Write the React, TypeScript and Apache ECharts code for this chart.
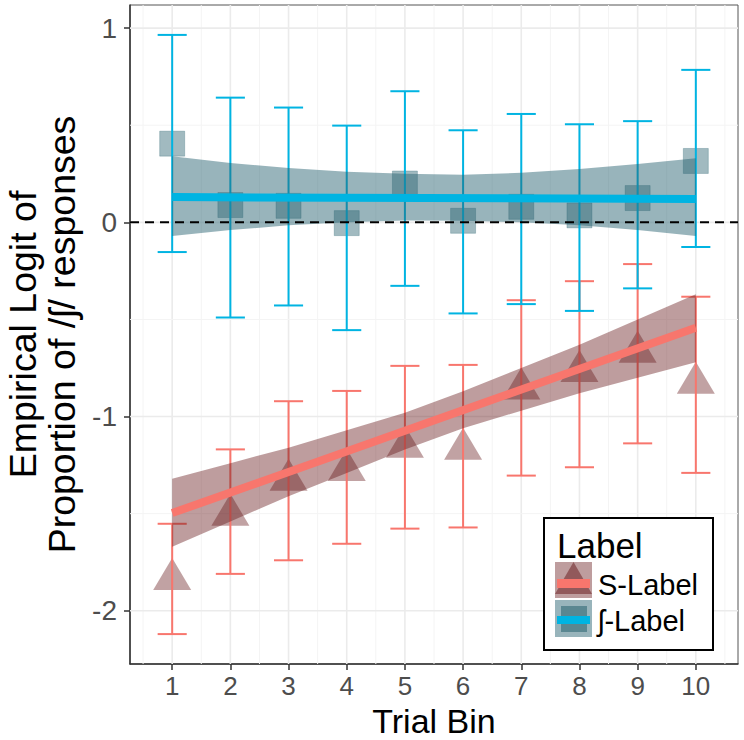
import React, { useEffect, useRef } from "react";
import * as echarts from "echarts";

// ---------- data ----------
const trialBins = [1, 2, 3, 4, 5, 6, 7, 8, 9, 10];
const xTickValues = [1, 2, 3, 4, 5, 6, 7, 8, 9, 10];
const yTickValues = [-2, -1, 0, 1];
const xMajorGrid = [1, 2, 3, 4, 5, 6, 7, 8, 9, 10];
const xMinorGrid = [0.5, 1.5, 2.5, 3.5, 4.5, 5.5, 6.5, 7.5, 8.5, 9.5, 10.5];
const yMajorGrid = [-2, -1, 0, 1];
const yMinorGrid = [-1.5, -0.5, 0.5];

// S-Label (triangles)
const sMean = [-1.81, -1.48, -1.3, -1.25, -1.13, -1.14, -0.83, -0.74, -0.64, -0.8];
const sLow = [-2.12, -1.81, -1.74, -1.655, -1.577, -1.571, -1.304, -1.261, -1.138, -1.29];
const sHigh = [-1.552, -1.169, -0.921, -0.868, -0.739, -0.734, -0.401, -0.303, -0.215, -0.383];
const sFitEnds = [-1.497, -0.543];
const sBandUpper = [-1.32, -1.24, -1.16, -1.07, -0.98, -0.87, -0.75, -0.63, -0.5, -0.37];
const sBandLower = [-1.67, -1.54, -1.41, -1.29, -1.17, -1.06, -0.97, -0.88, -0.8, -0.72];

// ʃ-Label (squares)
const shMean = [0.405, 0.089, 0.085, -0.004, 0.2, 0.008, 0.08, 0.036, 0.125, 0.316];
const shLow = [-0.153, -0.49, -0.428, -0.555, -0.327, -0.469, -0.421, -0.456, -0.34, -0.127];
const shHigh = [0.965, 0.642, 0.591, 0.498, 0.675, 0.474, 0.558, 0.505, 0.521, 0.785];
const shFitEnds = [0.13, 0.12];
const shBandUpper = [0.34, 0.305, 0.28, 0.26, 0.25, 0.245, 0.255, 0.275, 0.3, 0.33];
const shBandLower = [-0.07, -0.04, -0.015, 0.0, 0.01, 0.008, 0.0, -0.015, -0.04, -0.07];

const seriesNames = ["S-Label", "ʃ-Label"];

// ---------- styles ----------
const FONT = "'Liberation Sans', Arial, Helvetica, sans-serif";
const RED = "#F8766D";
const BLUE = "#00B4E2";
const RED_BAND = "rgba(99,22,24,0.42)";
const RED_PT = "rgba(99,22,24,0.5)";
const BLUE_BAND = "rgba(40,98,112,0.48)";
const BLUE_PT = "rgba(40,98,112,0.55)";
const X_MIN = 0.275;
const X_MAX = 10.725;
const Y_MIN = -2.274;
const Y_MAX = 1.119;
const ERR_WIDTH = 0.5;

function gridLineSeries() {
  const data: number[][] = [];
  xMinorGrid.forEach((v) => data.push([v, 0, 0]));
  xMajorGrid.forEach((v) => data.push([v, 0, 1]));
  yMinorGrid.forEach((v) => data.push([v, 1, 0]));
  yMajorGrid.forEach((v) => data.push([v, 1, 1]));
  return {
    type: "custom",
    name: "grid",
    silent: true,
    z: 1,
    data,
    renderItem: (params: any, api: any) => {
      const v = api.value(0);
      const dir = api.value(1);
      const major = api.value(2) === 1;
      const cs = params.coordSys;
      const style = {
        stroke: major ? "#EBEBEB" : "#F4F4F4",
        lineWidth: major ? 1.6 : 1,
      };
      if (dir === 0) {
        const px = api.coord([v, 0])[0];
        return { type: "line", shape: { x1: px, y1: cs.y, x2: px, y2: cs.y + cs.height }, style };
      }
      const py = api.coord([1, v])[1];
      return { type: "line", shape: { x1: cs.x, y1: py, x2: cs.x + cs.width, y2: py }, style };
    },
  };
}

function bandSeries(name: string, lower: number[], upper: number[], fill: string) {
  return {
    type: "custom",
    name,
    silent: true,
    z: 4,
    data: trialBins.map((x, i) => [x, lower[i], upper[i]]),
    renderItem: (params: any, api: any) => {
      if (params.dataIndex !== 0) return null;
      const pts: number[][] = [];
      trialBins.forEach((x, i) => pts.push(api.coord([x, upper[i]])));
      for (let i = trialBins.length - 1; i >= 0; i--) pts.push(api.coord([trialBins[i], lower[i]]));
      return { type: "polygon", shape: { points: pts }, style: { fill } };
    },
  };
}

function errSeries(name: string, low: number[], high: number[], color: string) {
  return {
    type: "custom",
    name,
    silent: true,
    z: 3,
    data: trialBins.map((x, i) => [x, low[i], high[i]]),
    renderItem: (params: any, api: any) => {
      const x = api.value(0);
      const top = api.coord([x, api.value(2)]);
      const bot = api.coord([x, api.value(1)]);
      const half = api.size([ERR_WIDTH, 0])[0] / 2;
      const style = { stroke: color, lineWidth: 2 };
      return {
        type: "group",
        children: [
          { type: "line", shape: { x1: top[0], y1: top[1], x2: bot[0], y2: bot[1] }, style },
          { type: "line", shape: { x1: top[0] - half, y1: top[1], x2: top[0] + half, y2: top[1] }, style },
          { type: "line", shape: { x1: bot[0] - half, y1: bot[1], x2: bot[0] + half, y2: bot[1] }, style },
        ],
      };
    },
  };
}

function zeroLineSeries() {
  return {
    type: "custom",
    name: "zero",
    silent: true,
    z: 6,
    data: [[0]],
    renderItem: (params: any, api: any) => {
      const cs = params.coordSys;
      const py = api.coord([1, 0])[1];
      return {
        type: "line",
        shape: { x1: cs.x, y1: py, x2: cs.x + cs.width, y2: py },
        style: { stroke: "#000", lineWidth: 2, lineDash: [9, 6] },
      };
    },
  };
}

function legendGraphics() {
  const bx = 544;
  const by = 518;
  return [
    { type: "rect", shape: { x: bx, y: by, width: 169, height: 132 }, style: { fill: "#fff", stroke: "#000", lineWidth: 2 }, z: 100 },
    { type: "text", x: 557, y: 545, style: { text: "Label", font: `35px ${FONT}`, fill: "#000", verticalAlign: "middle", align: "left" }, z: 101 },
    // S-Label key
    { type: "rect", shape: { x: 555, y: 562, width: 37, height: 36 }, style: { fill: RED_BAND }, z: 101 },
    { type: "polygon", shape: { points: [[573.5, 562], [555, 594], [592, 594]] }, style: { fill: RED_PT }, z: 102 },
    { type: "rect", shape: { x: 557, y: 579, width: 33, height: 9 }, style: { fill: RED }, z: 103 },
    { type: "text", x: 598, y: 585, style: { text: seriesNames[0], font: `29px ${FONT}`, fill: "#000", verticalAlign: "middle", align: "left" }, z: 101 },
    // ʃ-Label key
    { type: "rect", shape: { x: 555, y: 600, width: 37, height: 37 }, style: { fill: BLUE_BAND }, z: 101 },
    { type: "rect", shape: { x: 561, y: 606, width: 26, height: 26 }, style: { fill: BLUE_PT }, z: 102 },
    { type: "rect", shape: { x: 557, y: 616, width: 33, height: 8 }, style: { fill: BLUE }, z: 103 },
    { type: "text", x: 598, y: 621, style: { text: seriesNames[1], font: `29px ${FONT}`, fill: "#000", verticalAlign: "middle", align: "left" }, z: 101 },
  ];
}

const axisLabelStyle = { fontSize: 26, color: "#4D4D4D", fontFamily: FONT };

function buildOption() {
  return {
    animation: false,
    backgroundColor: "#ffffff",
    textStyle: { fontFamily: FONT },
    grid: {
      left: 130,
      right: 6,
      top: 5,
      bottom: 76,
      containLabel: false,
      outerBoundsMode: "none",
      show: true,
      borderColor: "#555",
      borderWidth: 1,
      backgroundColor: "transparent",
    },
    xAxis: {
      type: "value",
      min: X_MIN,
      max: X_MAX,
      name: "Trial Bin",
      nameLocation: "middle",
      nameGap: 39.5,
      nameMoveOverlap: false,
      nameTextStyle: { fontSize: 34, color: "#000", fontFamily: FONT, lineHeight: 34 },
      axisLine: { show: true, onZero: false, lineStyle: { color: "#333", width: 1.5 } },
      axisTick: { show: true, customValues: xTickValues, length: 6, lineStyle: { color: "#333", width: 1.5 } },
      axisLabel: { customValues: xTickValues, margin: 9, ...axisLabelStyle },
      splitLine: { show: false },
    },
    yAxis: {
      type: "value",
      min: Y_MIN,
      max: Y_MAX,
      name: "Empirical Logit of\nProportion of /ʃ/ responses",
      nameLocation: "middle",
      nameRotate: 90,
      nameGap: 49,
      nameMoveOverlap: false,
      nameTextStyle: { fontSize: 37.5, color: "#000", fontFamily: FONT, lineHeight: 39 },
      axisLine: { show: true, onZero: false, lineStyle: { color: "#333", width: 1.5 } },
      axisTick: { show: true, customValues: yTickValues, length: 6, lineStyle: { color: "#333", width: 1.5 } },
      axisLabel: { customValues: yTickValues, margin: 13, ...axisLabelStyle, fontSize: 28 },
      splitLine: { show: false },
    },
    graphic: legendGraphics(),
    series: [
      gridLineSeries(),
      {
        type: "scatter",
        name: seriesNames[0],
        z: 2,
        symbol: "triangle",
        symbolSize: [38, 32],
        itemStyle: { color: RED_PT },
        data: trialBins.map((x, i) => [x, sMean[i]]),
      },
      {
        type: "scatter",
        name: seriesNames[1],
        z: 2,
        symbol: "rect",
        symbolSize: 25,
        itemStyle: { color: BLUE_PT, borderColor: "rgba(40,98,112,0.35)", borderWidth: 1 },
        data: trialBins.map((x, i) => [x, shMean[i]]),
      },
      errSeries(seriesNames[0] + " CI", sLow, sHigh, RED),
      errSeries(seriesNames[1] + " CI", shLow, shHigh, BLUE),
      bandSeries(seriesNames[0] + " band", sBandLower, sBandUpper, RED_BAND),
      bandSeries(seriesNames[1] + " band", shBandLower, shBandUpper, BLUE_BAND),
      {
        type: "line",
        name: seriesNames[0] + " fit",
        z: 5,
        showSymbol: false,
        symbol: "none",
        lineStyle: { color: RED, width: 8 },
        data: [
          [trialBins[0], sFitEnds[0]],
          [trialBins[trialBins.length - 1], sFitEnds[1]],
        ],
      },
      {
        type: "line",
        name: seriesNames[1] + " fit",
        z: 5,
        showSymbol: false,
        symbol: "none",
        lineStyle: { color: BLUE, width: 8 },
        data: [
          [trialBins[0], shFitEnds[0]],
          [trialBins[trialBins.length - 1], shFitEnds[1]],
        ],
      },
      zeroLineSeries(),
    ],
  };
}

export default function App() {
  const ref = useRef<HTMLDivElement>(null);
  useEffect(() => {
    if (!ref.current) return;
    const chart = echarts.init(ref.current, null, { renderer: "svg" });
    chart.setOption(buildOption() as any);
    return () => chart.dispose();
  }, []);
  return (
    <div
      ref={ref}
      style={{ position: "absolute", left: 0, top: 0, width: 744, height: 740, background: "#fff" }}
    />
  );
}
